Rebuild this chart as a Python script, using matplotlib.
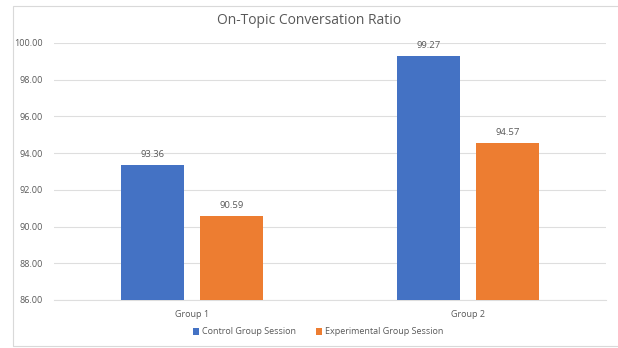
import matplotlib

matplotlib.use("Agg")
import matplotlib.pyplot as plt
import numpy as np
from matplotlib.patches import Rectangle

# 数据
groups = ["Group 1", "Group 2"]
series_names = ["Control Group Session", "Experimental Group Session"]
control = [93.36, 99.27]
experimental = [90.59, 94.57]
y_ticks = [86, 88, 90, 92, 94, 96, 98, 100]

colors = ["#4472C4", "#ED7D31"]
text_color = "#595959"
grid_color = "#DEDEDE"

plt.rcParams["font.family"] = ["Open Sans", "DejaVu Sans"]

W, H = 618, 348
fig = plt.figure(figsize=(W / 100, H / 100), dpi=100)
ax = fig.add_axes([54 / W, (H - 300) / H, (606 - 54) / W, (300 - 43) / H])

x = np.arange(len(groups))
width = 0.225
offset = 0.143
for vals, name, color, dx in zip([control, experimental], series_names, colors, [-offset, offset]):
    bars = ax.bar(x + dx, vals, width, color=color, label=name, zorder=3)
    for b, v in zip(bars, vals):
        ax.text(b.get_x() + b.get_width() / 2, v + 0.33, f"{v:.2f}",
                ha="center", va="bottom", fontsize=6.8, color=text_color)

ax.set_xlim(-0.5, 1.5)
ax.set_ylim(86, 100)
ax.set_yticks(y_ticks)
ax.set_yticklabels([f"{t:.2f}" for t in y_ticks])
ax.set_xticks(x)
ax.set_xticklabels(groups)
ax.tick_params(axis="both", length=0, labelsize=6.5, colors=text_color)
ax.tick_params(axis="y", pad=8)
ax.tick_params(axis="x", pad=7)
ax.grid(axis="y", color=grid_color, linewidth=0.8, zorder=0)
for side in ["top", "right", "left"]:
    ax.spines[side].set_visible(False)
ax.spines["bottom"].set_color(grid_color)
ax.spines["bottom"].set_linewidth(0.8)

fig.text(0.5, (H - 20) / H, "On-Topic Conversation Ratio", ha="center", va="center",
         fontsize=10, color=text_color)

fig.legend(loc="center", bbox_to_anchor=(318 / W, (H - 332) / H), ncol=2, frameon=False,
           fontsize=6.5, labelcolor=text_color, handlelength=0.7, handleheight=0.7,
           handletextpad=0.3, columnspacing=2.2)

# 图表外框（右边超出画面）
fig.patches.append(Rectangle((13 / W, 2 / H), (630 - 13) / W, (346 - 6) / H,
                             transform=fig.transFigure, fill=False,
                             edgecolor="#D9D9D9", linewidth=0.8))

fig.savefig("out.png", dpi=100)
